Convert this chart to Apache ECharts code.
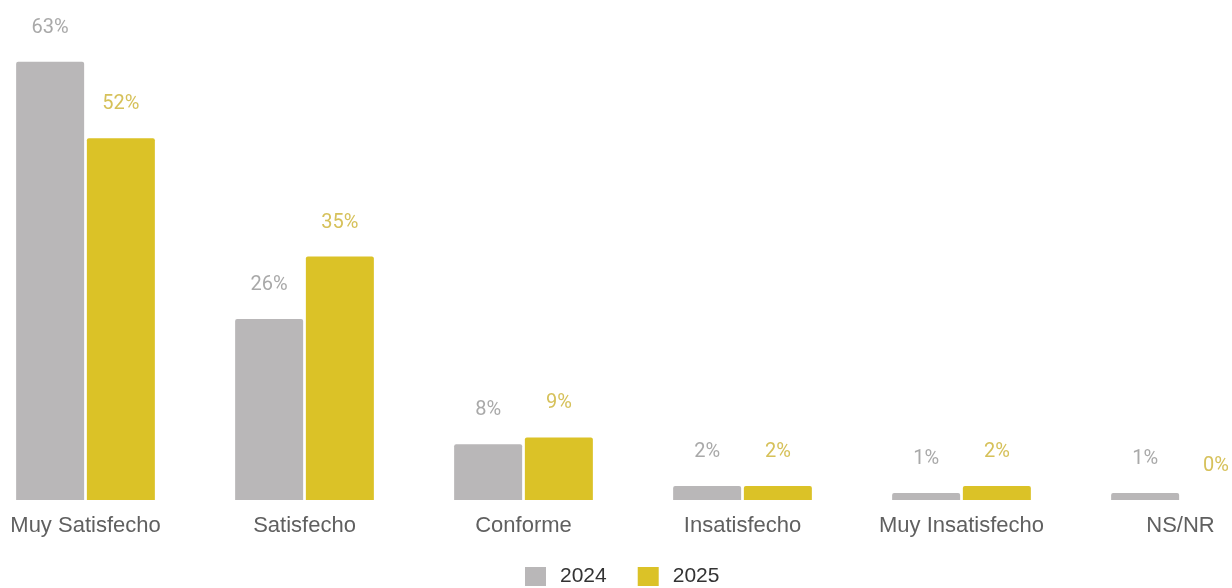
<!DOCTYPE html>
<html>
<head>
<meta charset="utf-8">
<script src="https://cdn.jsdelivr.net/npm/echarts@6/dist/echarts.min.js"></script>
<style>
  html, body { margin: 0; padding: 0; background: #ffffff; }
  #chart { width: 1232px; height: 588px; }
</style>
</head>
<body>
<div id="chart"></div>
<script>
// Satisfaction levels compared between two survey years
const categories = ['Muy Satisfecho', 'Satisfecho', 'Conforme', 'Insatisfecho', 'Muy Insatisfecho', 'NS/NR'];
const years = ['2024', '2025'];
const values2024 = [63, 26, 8, 2, 1, 1];
const values2025 = [52, 35, 9, 2, 2, 0];

const GRAY = '#b9b7b8';
const YELLOW = '#dbc227';

const chart = echarts.init(document.getElementById('chart'), null, { renderer: 'canvas' });

function barSeries(name, data, color, labelColor) {
  return {
    name: name,
    type: 'bar',
    data: data,
    barWidth: 68,
    barGap: '4%',
    itemStyle: { color: color, borderRadius: [2, 2, 0, 0] },
    label: {
      show: true,
      position: 'top',
      distance: 24,
      formatter: '{c}%',
      color: labelColor,
      fontFamily: 'Roboto',
      fontSize: 20
    }
  };
}

chart.setOption({
  animation: false,
  backgroundColor: '#ffffff',
  grid: {
    left: -24, width: 1314, top: 13, bottom: 88,
    containLabel: false,
    outerBoundsMode: 'none'
  },
  xAxis: {
    type: 'category',
    data: categories,
    axisLine: { show: false },
    axisTick: { show: false },
    axisLabel: {
      margin: 15,
      color: '#606060',
      fontFamily: 'Liberation Sans',
      fontSize: 22
    }
  },
  yAxis: {
    type: 'value',
    min: 0,
    max: 70,
    show: false,
    splitLine: { show: false }
  },
  legend: {
    data: years,
    top: 561,
    left: 520,
    itemWidth: 21,
    itemHeight: 19,
    itemGap: 31,
    icon: 'rect',
    textStyle: {
      color: '#333333',
      fontFamily: 'Liberation Sans',
      fontSize: 21,
      padding: [0, 0, 0, 9]
    }
  },
  series: [
    barSeries(years[0], values2024, GRAY, '#a9a9a9'),
    barSeries(years[1], values2025, YELLOW, '#d6c15a')
  ]
});
</script>
</body>
</html>
